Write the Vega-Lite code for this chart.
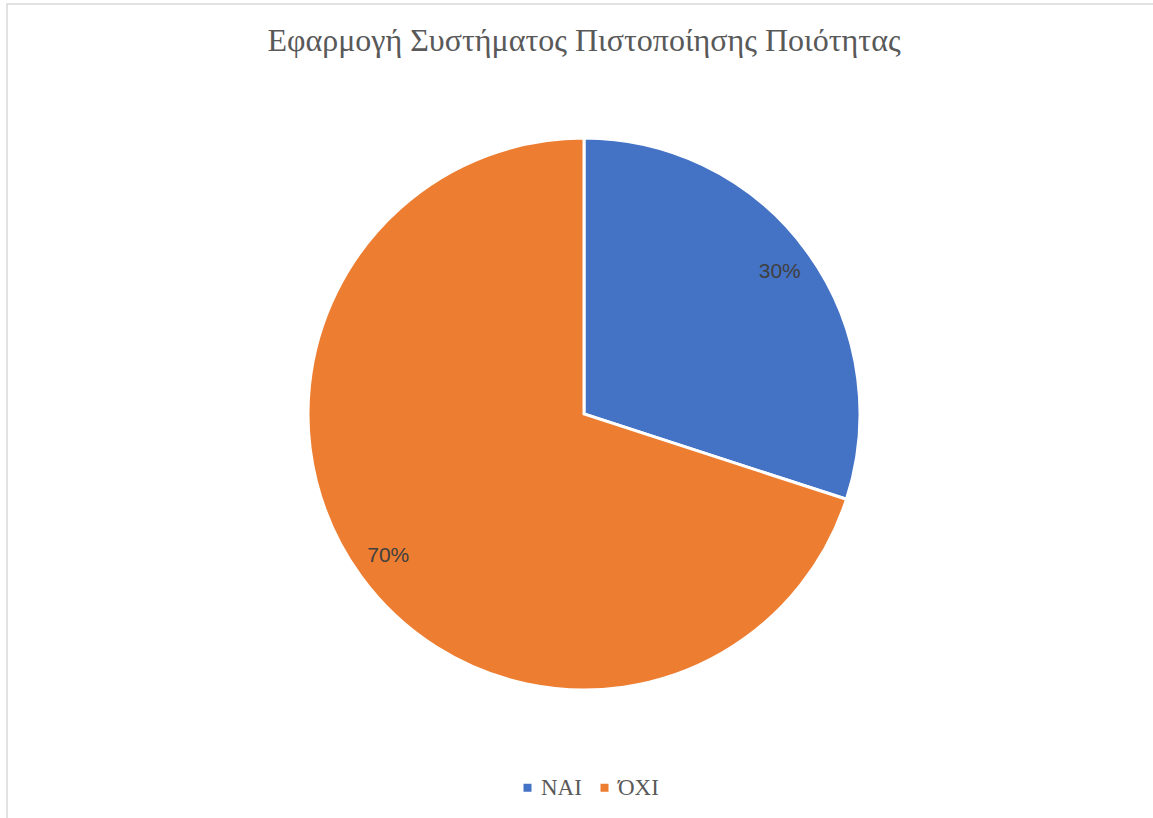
{
  "$schema": "https://vega.github.io/schema/vega-lite/v6.json",
  "autosize": "none",
  "padding": {"left": 7, "top": 4, "right": 0, "bottom": 0},
  "width": 1154,
  "height": 820,
  "background": "white",
  "view": {"stroke": "#d9d9d9", "strokeWidth": 1.5},
  "title": {
    "text": "Εφαρμογή Συστήματος Πιστοποίησης Ποιότητας",
    "font": "Liberation Serif",
    "fontSize": 32,
    "fontWeight": "normal",
    "color": "#595959",
    "anchor": "middle",
    "offset": -54
  },
  "data": {
    "values": [
      {"category": "NAI", "value": 0.3, "order": 1},
      {"category": "ΌΧΙ", "value": 0.7, "order": 2}
    ]
  },
  "encoding": {
    "theta": {"field": "value", "type": "quantitative", "stack": true},
    "order": {"field": "order", "type": "quantitative"},
    "color": {
      "field": "category",
      "type": "nominal",
      "sort": ["NAI", "ΌΧΙ"],
      "scale": {"domain": ["NAI", "ΌΧΙ"], "range": ["#4472C4", "#ED7D31"]},
      "legend": {
        "title": null,
        "orient": "none",
        "direction": "horizontal",
        "legendX": 509,
        "legendY": 772,
        "symbolType": "square",
        "symbolSize": 64,
        "symbolStrokeWidth": 0,
        "labelFont": "Liberation Serif",
        "labelFontSize": 23,
        "labelColor": "#595959",
        "labelOffset": 2,
        "columnPadding": 11
      }
    }
  },
  "layer": [
    {
      "mark": {"type": "arc", "outerRadius": 276, "stroke": "white", "strokeWidth": 3}
    },
    {
      "mark": {"type": "text", "radius": 242, "font": "Liberation Sans", "fontSize": 21, "color": "#404040"},
      "encoding": {
        "text": {"field": "value", "type": "quantitative", "format": ".0%"},
        "color": {"value": "#404040"}
      }
    }
  ]
}
